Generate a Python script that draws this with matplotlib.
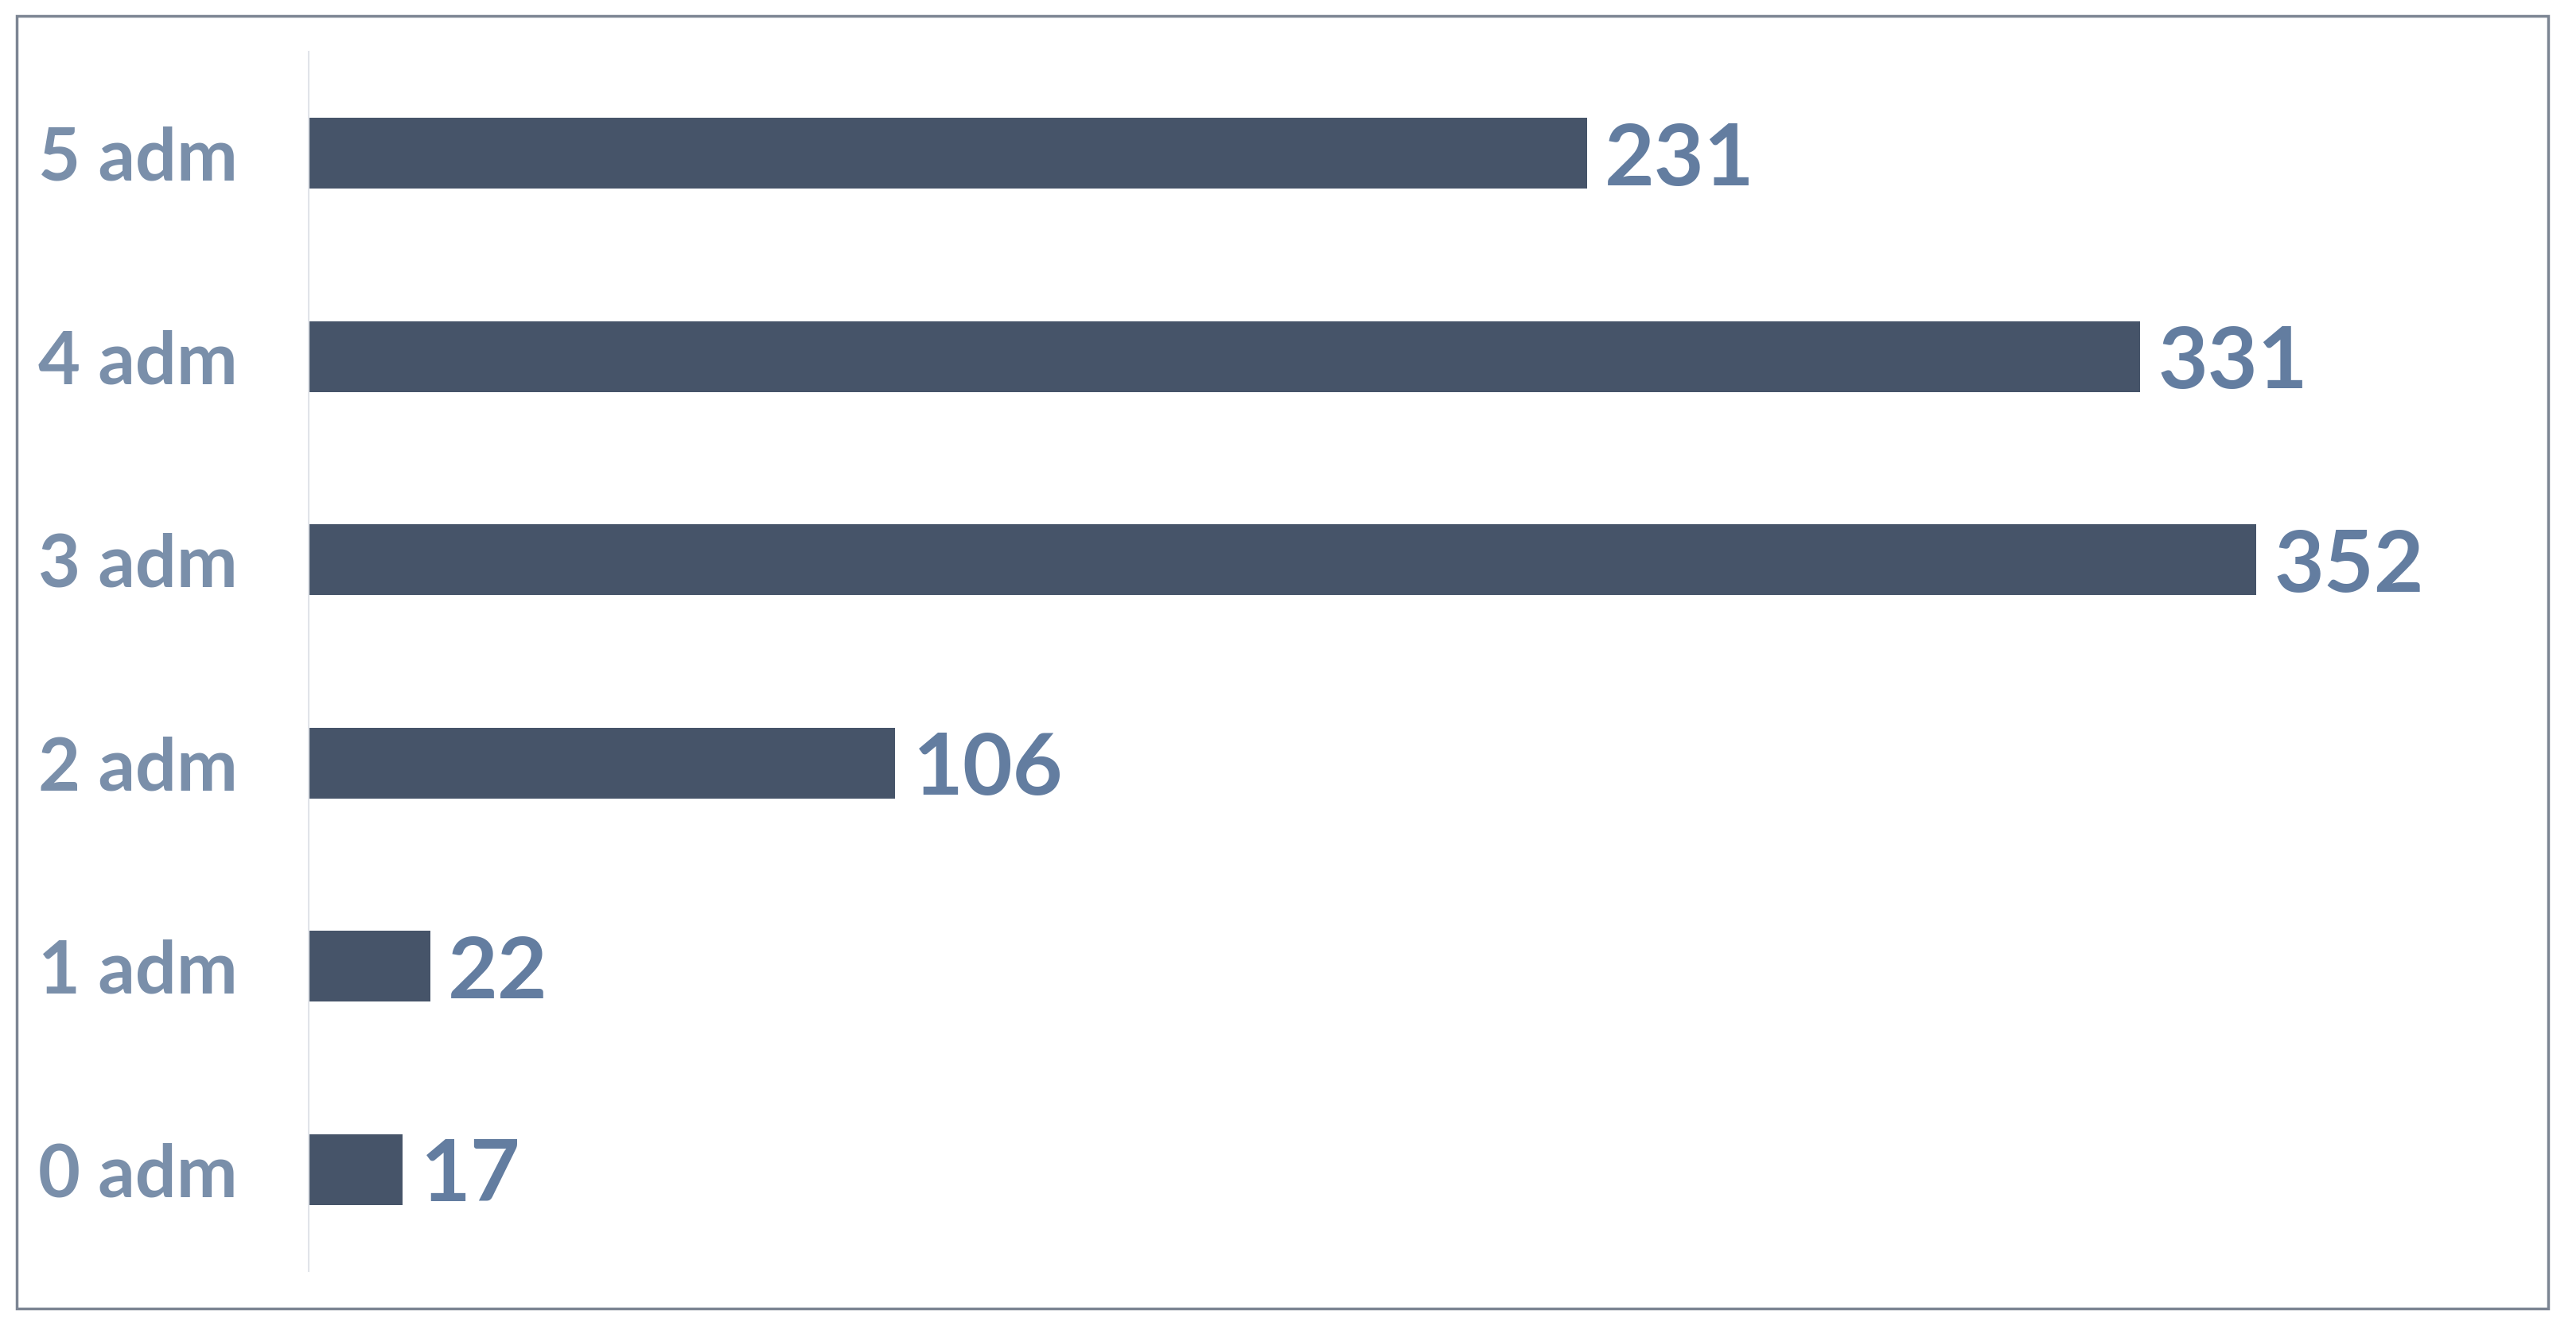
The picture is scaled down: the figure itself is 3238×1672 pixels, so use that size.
import matplotlib
matplotlib.use("Agg")
import matplotlib.pyplot as plt
from matplotlib.patches import Rectangle

categories = ["0 adm", "1 adm", "2 adm", "3 adm", "4 adm", "5 adm"]
values = [17, 22, 106, 352, 331, 231]

W, H, DPI = 3238, 1672, 100
fig = plt.figure(figsize=(W / DPI, H / DPI), dpi=DPI)
fig.patch.set_facecolor("white")

ax = fig.add_axes([388 / W, 74 / H, 2782 / W, 1533 / H])
ax.barh(range(len(categories)), values, height=0.35, color="#465469")
ax.set_ylim(-0.5, len(categories) - 0.5)
ax.set_xlim(0, 400)
ax.set_yticks(range(len(categories)))
ax.set_yticklabels(categories, fontfamily="Lato", fontweight="bold",
                   fontsize=66, color="#7A8FAA")
ax.tick_params(axis="y", length=0, pad=64)
ax.set_xticks([])
for s in ["top", "right", "bottom"]:
    ax.spines[s].set_visible(False)
ax.spines["left"].set_color("#E1E4E9")
ax.spines["left"].set_linewidth(1.5)

for i, v in enumerate(values):
    ax.annotate(str(v), xy=(v, i), xytext=(16, 0), textcoords="offset points",
                va="center_baseline", ha="left", fontfamily="Lato",
                fontweight="bold", fontsize=78, color="#637DA0")

fig.patches.append(Rectangle((21 / W, 27 / H), (3203 - 21) / W, (1652 - 27) / H,
                             transform=fig.transFigure, fill=False,
                             edgecolor="#7C8593", linewidth=2.5))

fig.savefig("out.png", dpi=DPI)
